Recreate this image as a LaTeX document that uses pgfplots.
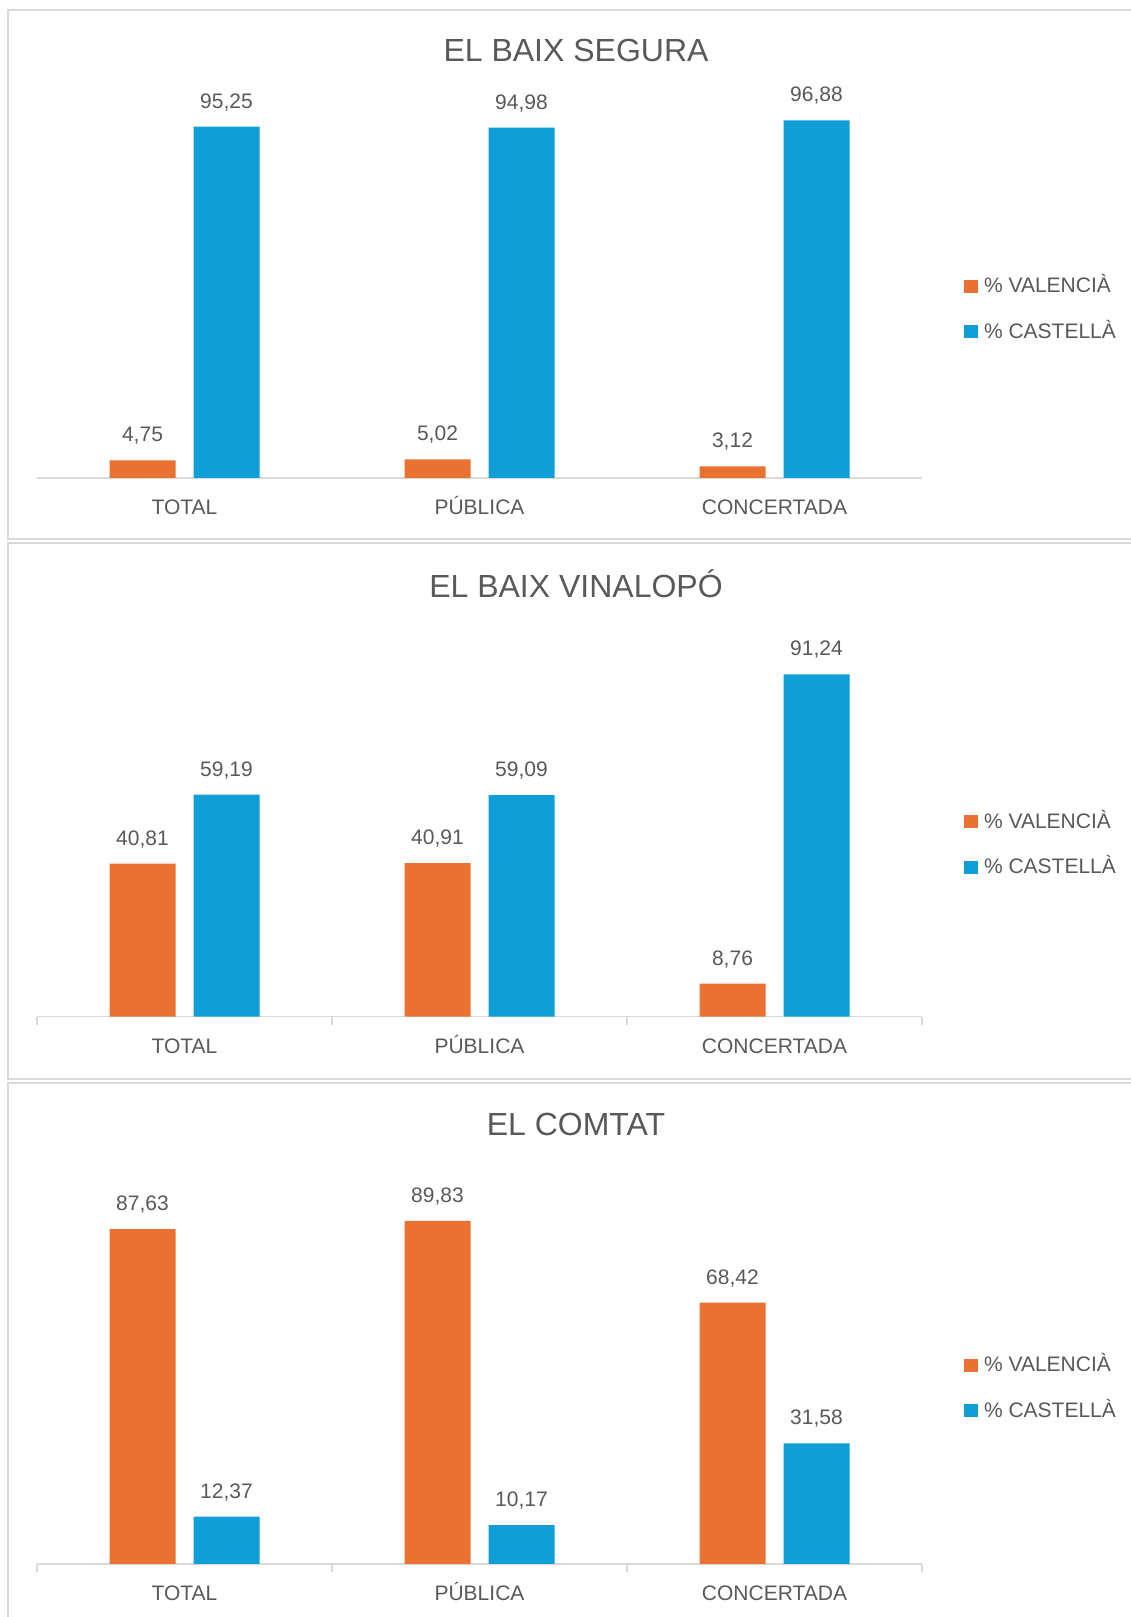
\documentclass[border=0pt]{standalone}
\usepackage{fontspec}
\setmainfont{Liberation Sans}
\usepackage{pgfplots}
\pgfplotsset{compat=1.18}
\definecolor{orng}{HTML}{E97132}
\definecolor{blu}{HTML}{0F9ED5}
\definecolor{txt}{HTML}{595959}
\definecolor{lgray}{HTML}{D9D9D9}
\newcommand{\fs}{\fontsize{21bp}{25bp}\selectfont}
\newcommand{\ts}{\fontsize{32bp}{38bp}\selectfont}
\pgfplotsset{
 panel/.style={
  scale only axis, width=885bp,
  xmin=-0.5, xmax=2.5, ymin=0, ymax=100, enlargelimits=false,
  axis x line=bottom, axis y line=none,
  x axis line style={draw=lgray, line width=1.5bp, -},
  ytick=\empty,
  xtick={0,1,2}, xticklabels={TOTAL,PÚBLICA,CONCERTADA},
  major tick length=0pt,
  xticklabel style={anchor=base, yshift=-37bp, font=\fs, text=txt},
  ybar=18bp, bar width=66bp,
  /pgf/number format/assume math mode=true,
  nodes near coords={\pgfmathprintnumber[fixed,fixed zerofill,precision=2,use comma]{\pgfplotspointmeta}},
  every node near coord/.append style={font=\fs, text=txt, anchor=base, inner sep=0pt, yshift=18.5bp},
  clip=false,
  legend image code/.code={\fill[##1] (0bp,-8bp) rectangle (13.5bp,5bp);},
  legend cell align=left,
  legend style={at={(1.0475,0.5447)}, anchor=north west, draw=none, fill=none,
    inner sep=0pt, outer sep=0pt, font=\fs, text=txt, row sep=29.5bp,
    nodes={inner sep=0pt, text height=16bp, text depth=0pt},
    /tikz/every odd column/.append style={column sep=6.5bp}},
 },
 withticks/.style={
  minor xtick={-0.5,0.5,1.5,2.5},
  minor tick length=8bp,
  xtick align=outside,
  minor tick style={draw=lgray, line width=1.5bp},
 },
}
\begin{document}
\begin{tikzpicture}
\useasboundingbox (0,0) rectangle (1131bp,1617bp);
\fill[white] (0,0) rectangle (1131bp,1617bp);
% panel borders
\draw[lgray, line width=1.5bp] (8bp,1607bp) rectangle (1145bp,1078bp);
\draw[lgray, line width=1.5bp] (8bp,1074bp) rectangle (1145bp,538bp);
\draw[lgray, line width=1.5bp] (8bp,534bp) rectangle (1145bp,-3bp);
% titles
\node[anchor=base, font=\ts, text=txt, inner sep=0pt] at (576bp,1555.3bp) {EL BAIX SEGURA};
\node[anchor=base, font=\ts, text=txt, inner sep=0pt] at (576bp,1019.7bp) {EL BAIX VINALOPÓ};
\node[anchor=base, font=\ts, text=txt, inner sep=0pt] at (576bp,481bp) {EL COMTAT};

\begin{axis}[panel, height=369bp, at={(37bp,1139bp)}, anchor=south west]
\addplot[fill=orng, draw=none] coordinates {(0,4.75) (1,5.02) (2,3.12)};
\addplot[fill=blu, draw=none] coordinates {(0,95.25) (1,94.98) (2,96.88)};
\legend{\% VALENCIÀ, \% CASTELLÀ}
\end{axis}

\begin{axis}[panel, withticks, height=375bp, at={(37bp,600.4bp)}, anchor=south west]
\addplot[fill=orng, draw=none] coordinates {(0,40.81) (1,40.91) (2,8.76)};
\addplot[fill=blu, draw=none] coordinates {(0,59.19) (1,59.09) (2,91.24)};
\legend{\% VALENCIÀ, \% CASTELLÀ}
\end{axis}

\begin{axis}[panel, withticks, height=382bp, at={(37bp,53bp)}, anchor=south west]
\addplot[fill=orng, draw=none] coordinates {(0,87.63) (1,89.83) (2,68.42)};
\addplot[fill=blu, draw=none] coordinates {(0,12.37) (1,10.17) (2,31.58)};
\legend{\% VALENCIÀ, \% CASTELLÀ}
\end{axis}
\end{tikzpicture}
\end{document}
